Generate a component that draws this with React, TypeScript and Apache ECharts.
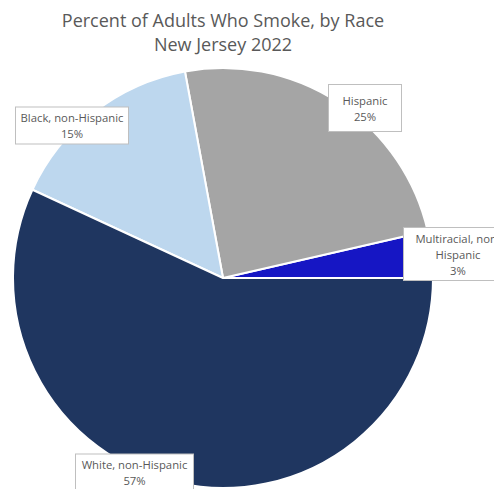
import React, { useEffect, useRef } from "react";
import * as echarts from "echarts";

const titleLines = ["Percent of Adults Who Smoke, by Race", "New Jersey 2022"];
const categories = [
  "Multiracial, non-Hispanic",
  "Hispanic",
  "Black, non-Hispanic",
  "White, non-Hispanic",
];
const shares = [3.6, 24.3, 15.2, 56.9];
const shownPercent = ["3%", "25%", "15%", "57%"];
const labelNames = ["Multiracial, non-\nHispanic", "Hispanic", "Black, non-Hispanic", "White, non-Hispanic"];
const colors = ["#1616C4", "#A5A5A5", "#BDD7EE", "#1F3660"];

// label box centers and sizes (layout only)
const labelBoxes = [
  { x: 458, y: 254, w: 100, pad: [2, 4, 2, 4] },
  { x: 365, y: 108, w: 64, pad: [7, 4, 7, 4] },
  { x: 72, y: 125.5, w: 104, pad: [2, 4, 2, 4] },
  { x: 134.5, y: 472.5, w: 109, pad: [2, 4, 2, 4] },
];

export default function App() {
  const ref = useRef<HTMLDivElement>(null);
  useEffect(() => {
    document.body.style.margin = "0";
    const chart = echarts.init(ref.current!, null, { renderer: "svg" });
    const font = "'Open Sans', sans-serif";
    chart.setOption({
      animation: false,
      backgroundColor: "#ffffff",
      title: {
        text: titleLines.join("\n"),
        left: 218,
        top: 3,
        textAlign: "center",
        textStyle: {
          fontFamily: font,
          fontSize: 18,
          fontWeight: "normal",
          color: "#595959",
          lineHeight: 24,
        },
      },
      series: [
        {
          type: "pie",
          center: [223, 278],
          radius: 210,
          startAngle: 0,
          clockwise: false,
          avoidLabelOverlap: false,
          itemStyle: { borderColor: "#ffffff", borderWidth: 2 },
          emphasis: { disabled: true },
          labelLine: { show: false },
          label: {
            show: true,
            position: "outside",
            fontFamily: font,
            fontSize: 11.3,
            color: "#595959",
            lineHeight: 16,
            backgroundColor: "#ffffff",
            borderColor: "#BFBFBF",
            borderWidth: 1,
            align: "center",
          },
          labelLayout: (params: any) => {
            const b = labelBoxes[params.dataIndex];
            return { x: b.x, y: b.y, align: "center", verticalAlign: "middle", hideOverlap: false };
          },
          data: categories.map((name, i) => ({
            name,
            value: shares[i],
            itemStyle: { color: colors[i] },
            label: {
              formatter: labelNames[i] + "\n" + shownPercent[i],
              width: labelBoxes[i].w,
              padding: labelBoxes[i].pad,
            },
          })),
        },
      ],
    });
    return () => chart.dispose();
  }, []);
  return <div ref={ref} style={{ width: 494, height: 489 }} />;
}
